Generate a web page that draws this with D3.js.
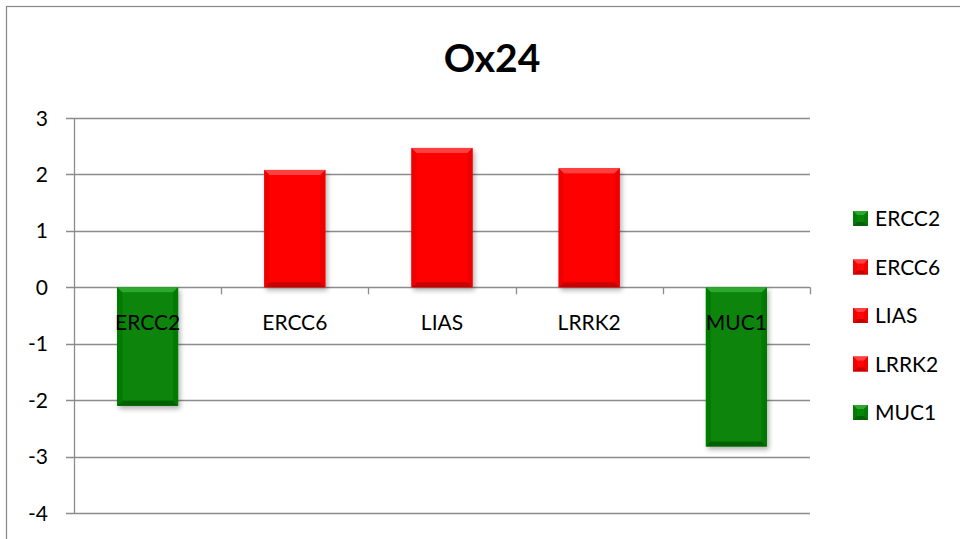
<!DOCTYPE html>
<html>
<head>
<meta charset="utf-8">
<script src="https://cdn.jsdelivr.net/npm/d3@7"></script>
<style>
  html, body { margin: 0; padding: 0; background: #fff; }
  svg { display: block; }
  text { font-family: Lato, "Open Sans", "Liberation Sans", sans-serif; fill: #000; }
</style>
</head>
<body>
<svg id="chart" width="960" height="539"></svg>
<script>
// Ox24 expression values per gene
const genes = ["ERCC2", "ERCC6", "LIAS", "LRRK2", "MUC1"];
const values = [-2.1, 2.08, 2.47, 2.11, -2.82];
const yTicks = [3, 2, 1, 0, -1, -2, -3, -4];
const chartTitle = "Ox24";

const svg = d3.select("#chart");
const W = 960, H = 539;
const plot = { left: 74, right: 810, top: 118, bottom: 513 };

const colorFor = v => v < 0 ? "green" : "red";
const palette = {
  green: { base: "#078507", light: "#2ea82e", dark: "#056105", side: "#067a06" },
  red:   { base: "#ff0606", light: "#ff4040", dark: "#c80000", side: "#ee0202" }
};

const defs = svg.append("defs");
const shadow = defs.append("filter").attr("id", "shadow")
  .attr("x", "-20%").attr("y", "-20%").attr("width", "150%").attr("height", "150%");
shadow.append("feGaussianBlur").attr("in", "SourceAlpha").attr("stdDeviation", 2.5);
shadow.append("feOffset").attr("dx", 2).attr("dy", 3).attr("result", "off");
shadow.append("feComponentTransfer").append("feFuncA").attr("type", "linear").attr("slope", 0.3);
const merge = shadow.append("feMerge");
merge.append("feMergeNode");
merge.append("feMergeNode").attr("in", "SourceGraphic");

// outer frame
svg.append("rect").attr("x", 6.5).attr("y", 6.5).attr("width", W).attr("height", H)
  .attr("fill", "#fff").attr("stroke", "#878787").attr("stroke-width", 1.2);

// title
svg.append("text").attr("x", 492).attr("y", 72).attr("text-anchor", "middle")
  .style("font-weight", "bold").style("font-size", "39px").text(chartTitle);

const x = d3.scaleBand().domain(genes).range([plot.left, plot.right]).paddingInner(0).paddingOuter(0);
const y = d3.scaleLinear().domain([-4, 3]).range([plot.bottom, plot.top]);

// horizontal gridlines
svg.append("g").selectAll("line").data(yTicks).join("line")
  .attr("x1", plot.left - 8).attr("x2", plot.right)
  .attr("y1", d => Math.round(y(d)) + 0.5).attr("y2", d => Math.round(y(d)) + 0.5)
  .attr("stroke", "#8c8c8c").attr("stroke-width", 1.3);

// y axis line
svg.append("line").attr("x1", plot.left + 0.5).attr("x2", plot.left + 0.5)
  .attr("y1", plot.top).attr("y2", plot.bottom)
  .attr("stroke", "#8c8c8c").attr("stroke-width", 1.3);

// y tick labels
svg.append("g").selectAll("text").data(yTicks).join("text")
  .attr("x", 48).attr("y", d => y(d) + 7.5).attr("text-anchor", "end")
  .style("font-size", "21px").text(d => d);

// category ticks along zero line
const boundaries = genes.slice(1).map(g => x(g)).concat([plot.right]);
svg.append("g").selectAll("line").data(boundaries).join("line")
  .attr("x1", d => Math.round(d) + 0.5).attr("x2", d => Math.round(d) + 0.5)
  .attr("y1", y(0)).attr("y2", y(0) + 7)
  .attr("stroke", "#8c8c8c").attr("stroke-width", 1.3);

// bevelled bar
function bevel(g, x0, y0, w, h, c, b) {
  g.append("rect").attr("x", x0).attr("y", y0).attr("width", w).attr("height", h).attr("fill", c.base);
  const x1 = x0 + w, y1 = y0 + h;
  g.append("polygon").attr("points", [[x0, y0], [x1, y0], [x1 - b, y0 + b], [x0 + b, y0 + b]].join(" ")).attr("fill", c.light);
  g.append("polygon").attr("points", [[x0, y1], [x1, y1], [x1 - b, y1 - b], [x0 + b, y1 - b]].join(" ")).attr("fill", c.dark);
  g.append("polygon").attr("points", [[x0, y0], [x0 + b, y0 + b], [x0 + b, y1 - b], [x0, y1]].join(" ")).attr("fill", c.side);
  g.append("polygon").attr("points", [[x1, y0], [x1 - b, y0 + b], [x1 - b, y1 - b], [x1, y1]].join(" ")).attr("fill", c.side);
}

const barW = x.bandwidth() * 0.415;
const bars = svg.append("g");
genes.forEach((g, i) => {
  const v = values[i];
  const top = y(Math.max(0, v)), bot = y(Math.min(0, v));
  const grp = bars.append("g").attr("filter", "url(#shadow)");
  bevel(grp, x(g) + (x.bandwidth() - barW) / 2, top, barW, bot - top, palette[colorFor(v)], 5);
});

// category labels
svg.append("g").selectAll("text").data(genes).join("text")
  .attr("x", d => x(d) + x.bandwidth() / 2).attr("y", y(0) + 43)
  .attr("text-anchor", "middle").style("font-size", "21px").text(d => d);

// legend
const legend = svg.append("g");
genes.forEach((g, i) => {
  const ly = 218 + i * 48.5;
  const grp = legend.append("g");
  bevel(grp, 853, ly - 7, 15, 15, palette[colorFor(values[i])], 4);
  legend.append("text").attr("x", 875).attr("y", ly + 8).style("font-size", "21px").text(g);
});
</script>
</body>
</html>
